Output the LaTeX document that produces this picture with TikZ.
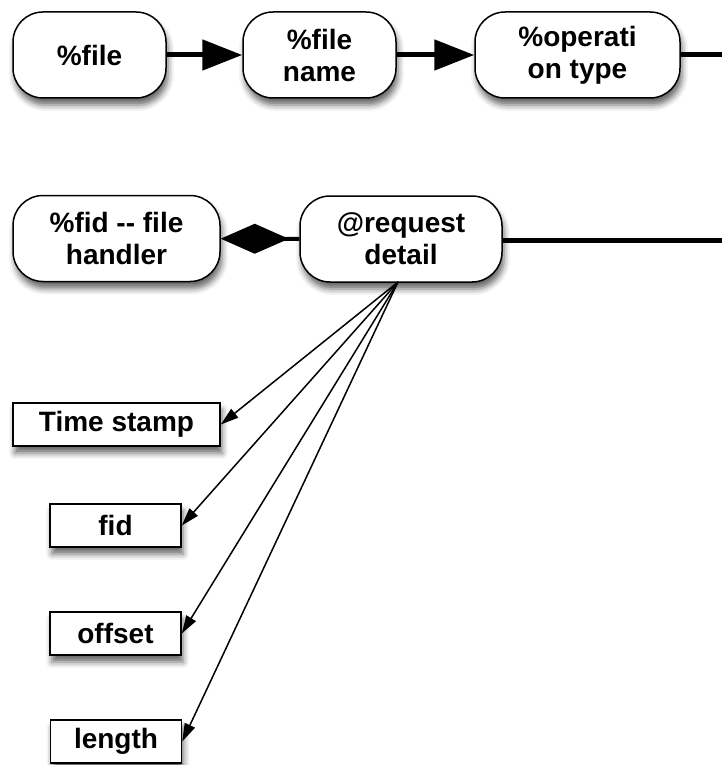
\documentclass[tikz,border=0pt]{standalone}
\usepackage{fontspec}
\setmainfont{Liberation Sans}
\usetikzlibrary{arrows.meta,shadows.blur}
\begin{document}
\begin{tikzpicture}[x=1pt,y=-1pt,
  shade/.style={blur shadow={shadow xshift=2pt, shadow yshift=-7pt, shadow blur radius=6pt, shadow opacity=60}},
  rbox/.style={draw=black, line width=1.5pt, fill=white, rounded corners=30pt,
    minimum height=86pt, inner sep=0pt, align=center,
    font=\fontsize{28}{32}\selectfont\bfseries, shade},
  sbox/.style={draw=black, line width=1.5pt, fill=white,
    minimum height=43pt, inner sep=0pt, align=center,
    font=\fontsize{28}{32}\selectfont\bfseries, shade},
  flow/.style={line width=5pt, -{Triangle[length=40pt,width=30pt]}},
  bar/.style={line width=5pt},
  fan/.style={line width=1.5pt, -{Triangle[length=18pt,width=11pt]}}
]
\useasboundingbox (0,0) rectangle (722,765);

\node[rbox, minimum width=153pt] (file) at (89.5,55) {\%file};
\node[rbox, minimum width=153pt] (fname) at (319.5,55) {\%file\\name};
\node[rbox, minimum width=205pt] (optype) at (577.5,55) {\%operati\\on type};

\node[rbox, minimum width=207pt] (fid) at (116.5,238.5) {\%fid -{}- file\\handler};
\node[rbox, minimum width=202pt] (req) at (401,239) {@request\\detail};

\node[sbox, minimum width=207pt] (ts) at (116.5,424.5) {Time stamp};
\node[sbox, minimum width=131pt] (fidb) at (115.5,525.5) {fid};
\node[sbox, minimum width=131pt] (off) at (115.5,633.5) {offset};
\node[sbox, minimum width=131pt] (len) at (116,741.5) {length};

\coordinate (r1) at (722,55);
\coordinate (r2) at (722,240);
\coordinate (src) at (398,282);

\draw[flow] (file) -- (fname);
\draw[flow] (fname) -- (optype);
\draw[bar] (optype) -- (r1);

\draw[line width=4pt, {Diamond[length=68pt,width=30pt]}-] (fid) -- (req);
\draw[bar] (req.east |- r2) -- (r2);

\draw[fan] (src) -- (ts.east);
\draw[fan] (src) -- (fidb.east);
\draw[fan] (src) -- (off.east);
\draw[fan] (src) -- (len.east);
\end{tikzpicture}
\end{document}
